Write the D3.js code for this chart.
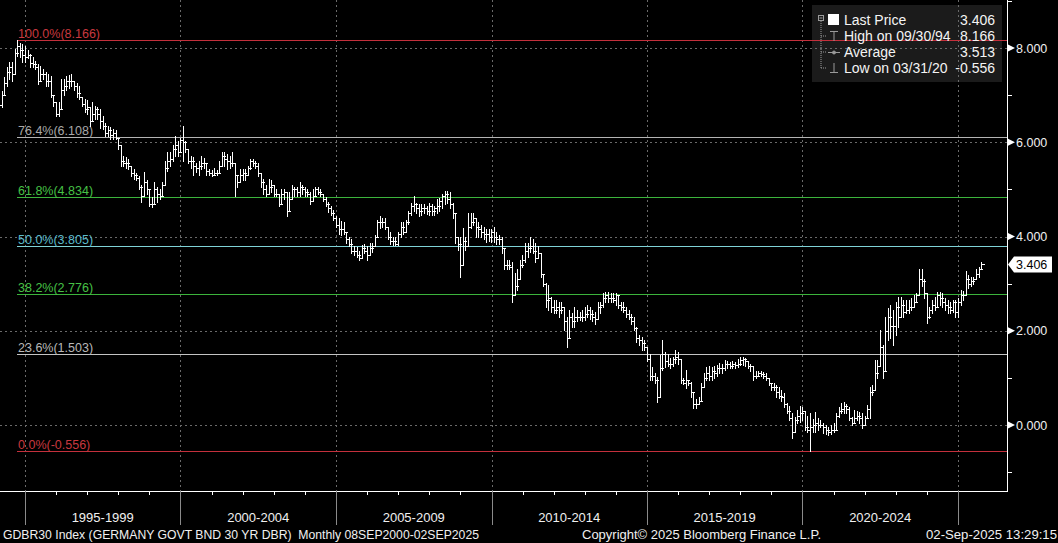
<!DOCTYPE html>
<html>
<head>
<meta charset="utf-8">
<script src="https://cdn.jsdelivr.net/npm/d3@7"></script>
<style>
html, body { margin: 0; padding: 0; background: #000; }
svg { display: block; }
text { font-family: "Liberation Sans", Arial, sans-serif; }
</style>
</head>
<body>
<svg width="1058" height="543"></svg>
<script>
// monthly bars from Mar 1994 to Sep 2025, one row per year
const firstBar = [1994, 2];
const firstOpen = 6.8;
const closeYield = [
    7.0, 7.25, 7.5, 7.6, 7.45, 7.9, 8.05, 7.95, 7.85, 7.8,
    7.85, 7.68, 7.65, 7.6, 7.3, 7.45, 7.45, 7.3, 7.3, 7.0, 6.85, 6.6,
    6.7, 7.1, 7.2, 7.3, 7.3, 7.3, 7.2, 7.05, 6.95, 6.82, 6.7, 6.75,
    6.45, 6.6, 6.7, 6.6, 6.45, 6.35, 6.2, 6.25, 6.15, 6.2, 6.1, 5.95,
    5.6, 5.55, 5.55, 5.5, 5.35, 5.3, 5.25, 5.05, 4.85, 5.15, 5.0, 4.7,
    4.7, 5.0, 4.9, 4.85, 5.1, 5.45, 5.6, 5.65, 5.85, 5.95, 5.8, 6.05,
    6.0, 5.85, 5.6, 5.6, 5.5, 5.45, 5.5, 5.55, 5.55, 5.4, 5.35, 5.3,
    5.35, 5.35, 5.5, 5.7, 5.65, 5.6, 5.55, 5.55, 5.3, 5.15, 5.3, 5.35,
    5.3, 5.45, 5.6, 5.55, 5.5, 5.35, 5.15, 5.0, 4.9, 5.05, 5.1, 4.9,
    4.9, 4.7, 4.9, 4.95, 4.55, 4.8, 5.0, 5.0, 4.95, 5.05, 5.0, 4.95,
    4.9, 4.75, 4.85, 5.0, 4.95, 4.9, 4.8, 4.7, 4.6, 4.5, 4.4, 4.25,
    4.15, 4.15, 4.1, 3.95, 3.85, 3.7, 3.7, 3.6, 3.55, 3.75, 3.7, 3.6,
    3.75, 3.8, 4.0, 4.3, 4.3, 4.3, 4.2, 4.0, 3.9, 3.9, 3.85, 4.05,
    4.2, 4.1, 4.3, 4.5, 4.65, 4.7, 4.6, 4.55, 4.6, 4.6, 4.55, 4.65,
    4.55, 4.6, 4.65, 4.75, 4.85, 4.9, 4.8, 4.7, 4.5, 4.0, 3.85, 3.4,
    3.9, 3.8, 4.2, 4.3, 4.4, 4.2, 4.15, 4.1, 4.05, 4.05, 4.0, 4.1,
    4.0, 3.95, 3.95, 3.75, 3.4, 3.4, 3.35, 2.75, 2.95, 3.1, 3.4, 3.5,
    3.7, 3.75, 3.8, 3.7, 3.55, 3.65, 3.2, 3.0, 2.65, 2.7, 2.5, 2.45,
    2.5, 2.45, 2.5, 2.2, 1.85, 2.3, 2.2, 2.3, 2.3, 2.3, 2.3, 2.35,
    2.45, 2.35, 2.3, 2.25, 2.5, 2.55, 2.7, 2.75, 2.7, 2.7, 2.65, 2.75,
    2.55, 2.5, 2.45, 2.35, 2.3, 2.2, 2.05, 1.85, 1.8, 1.75, 1.65, 1.4,
    1.05, 1.05, 0.95, 0.6, 1.2, 1.5, 1.35, 1.3, 1.3, 1.4, 1.45, 1.4,
    0.95, 0.9, 0.95, 0.9, 0.7, 0.45, 0.45, 0.5, 0.8, 1.0, 1.1, 1.05,
    1.15, 1.1, 1.2, 1.2, 1.2, 1.3, 1.3, 1.25, 1.3, 1.28, 1.3, 1.38,
    1.4, 1.35, 1.25, 1.25, 1.05, 1.05, 1.1, 1.08, 1.05, 1.0, 0.9, 0.8,
    0.8, 0.7, 0.62, 0.6, 0.45, 0.3, 0.15, -0.15, 0.1, 0.2, 0.25, 0.3,
    -0.05, -0.1, -0.05, 0.0, 0.05, 0.0, 0.0, -0.05, -0.1, -0.15, -0.1, -0.1,
    0.2, 0.3, 0.35, 0.4, 0.35, 0.15, 0.05, 0.15, 0.2, 0.15, 0.0, 0.15,
    0.35, 0.7, 0.75, 1.1, 1.25, 1.65, 1.15, 2.0, 2.3, 2.1, 2.1, 2.5,
    2.3, 2.55, 2.4, 2.45, 2.5, 2.5, 2.6, 2.75, 3.1, 3.05, 2.8, 2.3,
    2.45, 2.55, 2.5, 2.75, 2.7, 2.6, 2.55, 2.5, 2.45, 2.6, 2.4, 2.6,
    2.75, 2.75, 3.1, 3.0, 3.05, 3.1, 3.2, 3.3, 3.406
];
const highYield = [
    7.09, 7.38, 7.6, 7.7, 7.7, 7.98, 8.166, 8.1, 8.08, 8.05,
    7.95, 7.88, 7.8, 7.72, 7.66, 7.62, 7.55, 7.49, 7.45, 7.4, 6.98, 6.85,
    6.85, 7.34, 7.35, 7.4, 7.42, 7.45, 7.3, 7.25, 7.2, 6.96, 6.91, 6.9,
    6.64, 6.85, 6.77, 6.75, 6.7, 6.55, 6.4, 6.34, 6.32, 6.28, 6.25, 6.06,
    5.79, 5.7, 5.68, 5.65, 5.49, 5.43, 5.35, 5.28, 5.1, 5.36, 5.2, 4.95,
    4.83, 5.15, 5.05, 5.0, 5.15, 5.6, 5.79, 5.79, 5.95, 6.13, 6.02, 6.1,
    6.35, 6.02, 5.81, 5.7, 5.68, 5.57, 5.6, 5.7, 5.66, 5.5, 5.43, 5.42,
    5.45, 5.42, 5.6, 5.79, 5.79, 5.75, 5.7, 5.79, 5.57, 5.3, 5.43, 5.43,
    5.43, 5.5, 5.64, 5.64, 5.6, 5.57, 5.28, 5.21, 5.1, 5.23, 5.2, 5.1,
    5.0, 4.83, 5.0, 5.0, 4.83, 4.94, 5.1, 5.06, 5.06, 5.15, 5.1, 5.05,
    5.0, 4.94, 5.0, 5.06, 5.06, 5.0, 4.9, 4.83, 4.74, 4.65, 4.57, 4.43,
    4.4, 4.32, 4.3, 4.09, 4.0, 3.94, 3.79, 3.77, 3.7, 3.83, 3.85, 3.8,
    3.87, 3.87, 4.04, 4.36, 4.43, 4.4, 4.4, 4.2, 4.09, 4.0, 4.0, 4.1,
    4.3, 4.3, 4.36, 4.55, 4.72, 4.85, 4.72, 4.7, 4.7, 4.7, 4.64, 4.72,
    4.7, 4.65, 4.79, 4.82, 4.9, 4.96, 4.96, 4.94, 4.72, 4.5, 4.0, 4.0,
    4.19, 4.0, 4.5, 4.5, 4.5, 4.36, 4.3, 4.25, 4.2, 4.15, 4.15, 4.15,
    4.2, 4.1, 4.04, 4.0, 3.72, 3.51, 3.5, 3.45, 3.23, 3.3, 3.51, 3.6,
    3.87, 3.87, 4.0, 3.95, 3.87, 3.79, 3.4, 3.15, 3.02, 2.98, 2.72, 2.65,
    2.66, 2.6, 2.6, 2.51, 2.3, 2.45, 2.38, 2.51, 2.45, 2.4, 2.45, 2.51,
    2.55, 2.5, 2.45, 2.4, 2.6, 2.6, 2.81, 2.83, 2.83, 2.8, 2.8, 2.8,
    2.7, 2.62, 2.6, 2.5, 2.45, 2.35, 2.3, 2.09, 1.91, 1.87, 1.8, 1.66,
    1.5, 1.23, 1.1, 1.02, 1.49, 1.81, 1.55, 1.5, 1.43, 1.45, 1.6, 1.55,
    1.17, 1.0, 1.17, 0.95, 0.92, 0.6, 0.55, 0.6, 0.89, 1.1, 1.23, 1.25,
    1.23, 1.25, 1.28, 1.32, 1.3, 1.38, 1.36, 1.33, 1.35, 1.34, 1.4, 1.45,
    1.45, 1.42, 1.35, 1.3, 1.21, 1.15, 1.15, 1.15, 1.12, 1.1, 1.0, 0.89,
    0.89, 0.85, 0.81, 0.75, 0.68, 0.47, 0.4, 0.26, 0.17, 0.32, 0.4, 0.38,
    0.28, 0.2, 0.26, 0.13, 0.28, 0.15, 0.1, 0.04, 0.0, -0.04, 0.0, 0.05,
    0.26, 0.38, 0.47, 0.48, 0.45, 0.38, 0.17, 0.32, 0.3, 0.28, 0.25, 0.2,
    0.43, 0.81, 0.85, 1.38, 1.38, 2.02, 1.7, 2.3, 2.49, 2.55, 2.45, 2.6,
    2.72, 2.72, 2.66, 2.66, 2.66, 2.7, 2.75, 2.81, 3.3, 3.3, 3.1, 2.72,
    2.51, 2.66, 2.72, 2.83, 2.83, 2.8, 2.7, 2.66, 2.62, 2.66, 2.66, 2.7,
    2.87, 2.85, 3.26, 3.19, 3.15, 3.15, 3.3, 3.36, 3.45
];
const lowYield = [
    6.74, 7.0, 7.2, 7.35, 7.3, 7.45, 7.83, 7.8, 7.7, 7.7,
    7.78, 7.6, 7.6, 7.55, 7.23, 7.3, 7.35, 7.2, 7.19, 6.95, 6.77, 6.55,
    6.55, 6.7, 7.0, 7.1, 7.15, 7.2, 7.1, 6.95, 6.91, 6.77, 6.64, 6.6,
    6.34, 6.5, 6.49, 6.5, 6.3, 6.28, 6.13, 6.13, 6.06, 6.06, 6.06, 5.85,
    5.49, 5.49, 5.45, 5.43, 5.28, 5.21, 5.2, 5.0, 4.74, 4.85, 4.9, 4.64,
    4.62, 4.7, 4.74, 4.8, 4.85, 5.15, 5.4, 5.5, 5.6, 5.7, 5.7, 5.8,
    5.6, 5.79, 5.55, 5.45, 5.3, 5.36, 5.3, 5.43, 5.45, 5.3, 5.3, 5.28,
    5.3, 5.3, 5.36, 5.49, 5.5, 5.43, 5.45, 5.49, 4.85, 5.06, 5.15, 5.2,
    5.2, 5.3, 5.43, 5.49, 5.45, 5.28, 5.06, 4.9, 4.85, 4.94, 4.95, 4.85,
    4.85, 4.64, 4.8, 4.8, 4.43, 4.74, 4.83, 4.85, 4.85, 4.85, 4.9, 4.85,
    4.85, 4.68, 4.75, 4.89, 4.9, 4.85, 4.76, 4.64, 4.53, 4.45, 4.36, 4.2,
    4.05, 4.04, 4.05, 3.87, 3.8, 3.66, 3.6, 3.57, 3.51, 3.62, 3.65, 3.51,
    3.6, 3.68, 3.79, 4.0, 4.19, 4.2, 4.15, 3.95, 3.85, 3.83, 3.83, 3.83,
    4.0, 4.05, 4.1, 4.26, 4.45, 4.55, 4.5, 4.43, 4.45, 4.5, 4.47, 4.45,
    4.45, 4.45, 4.5, 4.55, 4.6, 4.7, 4.72, 4.6, 4.4, 3.87, 3.72, 3.13,
    3.51, 3.72, 3.87, 4.19, 4.25, 4.0, 4.0, 4.0, 3.95, 3.89, 3.9, 3.89,
    3.89, 3.85, 3.85, 3.66, 3.3, 3.3, 3.3, 2.62, 2.81, 2.87, 3.09, 3.36,
    3.45, 3.57, 3.68, 3.66, 3.45, 3.57, 3.15, 2.94, 2.51, 2.45, 2.4, 2.38,
    2.38, 2.3, 2.38, 2.02, 1.66, 2.09, 2.09, 2.09, 2.2, 2.23, 2.2, 2.23,
    2.3, 2.25, 2.2, 2.15, 2.3, 2.38, 2.51, 2.62, 2.6, 2.6, 2.6, 2.55,
    2.49, 2.45, 2.4, 2.3, 2.25, 2.15, 2.02, 1.77, 1.7, 1.6, 1.6, 1.35,
    0.96, 0.96, 0.9, 0.49, 1.1, 1.17, 1.23, 1.25, 1.21, 1.25, 1.32, 1.3,
    0.89, 0.87, 0.79, 0.85, 0.6, 0.36, 0.36, 0.45, 0.53, 0.89, 0.96, 0.96,
    0.96, 1.0, 1.05, 1.1, 1.1, 1.17, 1.2, 1.2, 1.2, 1.21, 1.24, 1.28,
    1.28, 1.25, 1.2, 1.15, 0.96, 1.0, 1.03, 1.05, 1.0, 0.96, 0.85, 0.74,
    0.74, 0.6, 0.57, 0.5, 0.38, 0.26, 0.1, -0.28, -0.06, 0.04, 0.06, 0.1,
    -0.11, -0.15, -0.556, -0.15, -0.15, -0.1, -0.05, -0.17, -0.2, -0.21, -0.2, -0.15,
    -0.11, 0.17, 0.26, 0.25, 0.25, 0.1, 0.0, 0.05, 0.1, 0.05, -0.06, 0.0,
    0.15, 0.15, 0.64, 0.75, 1.0, 1.38, 1.0, 1.66, 1.81, 1.85, 1.7, 1.9,
    2.09, 2.3, 2.3, 2.38, 2.38, 2.45, 2.55, 2.6, 2.81, 2.94, 2.7, 2.17,
    2.28, 2.38, 2.45, 2.55, 2.55, 2.5, 2.45, 2.38, 2.38, 2.4, 2.3, 2.3,
    2.55, 2.65, 2.75, 2.91, 2.95, 3.0, 3.1, 3.15, 3.36
];

const fibPct = ['100.0%', '76.4%', '61.8%', '50.0%', '38.2%', '23.6%', '0.0%'];
const fibValue = [8.166, 6.108, 4.834, 3.805, 2.776, 1.503, -0.556];

const yTicks = [0, 2, 4, 6, 8];
const yMinorTicks = [-1, 1, 3, 5, 7, 9];
const periodStarts = [1995, 2000, 2005, 2010, 2015, 2020, 2025];
const periodLabels = ['1995-1999', '2000-2004', '2005-2009', '2010-2014', '2015-2019', '2020-2024'];

const legendNames = ['Last Price', 'High on 09/30/94', 'Average', 'Low on 03/31/20'];
const legendValues = ['3.406', '8.166', '3.513', '-0.556'];
const lastPrice = 3.406;

const footerLeft = 'GDBR30 Index (GERMANY GOVT BND 30 YR DBR)  Monthly 08SEP2000-02SEP2025';
const footerMid = 'Copyright\u00a9 2025 Bloomberg Finance L.P.';
const footerRight = '02-Sep-2025 13:29:15';

// layout
const plotRight = 1007;
const plotBottom = 491;
const fibColors = ['#c4303c', '#b4b4b4', '#3cb43c', '#7fd2d6', '#3cb43c', '#c4c4c4', '#c4303c'];
const fibText = ['#c8383f', '#a8a8a8', '#46c046', '#5cbccc', '#46c046', '#b8b8b8', '#c8383f'];

const svg = d3.select('svg');

const xScale = d3
    .scaleTime()
    .domain([new Date(1995, 0, 1), new Date(2025, 0, 1)])
    .range([25, 958]);

const yScale = d3.scaleLinear().domain([0, 8]).range([425, 48]);

const barDate = (i) => new Date(firstBar[0], firstBar[1] + i + 1, 0);
const px = (v) => Math.round(v) + 0.5;
// plain hyphen for negatives, like the terminal prints
const fmt = (v) => d3.format('.3f')(v).replace('\u2212', '-');

// legend box sits under the grid
svg.append('rect')
    .attr('x', 812)
    .attr('y', 5)
    .attr('width', 190)
    .attr('height', 77)
    .attr('fill', '#1b1b1b');

// dashed grid
svg.append('g')
    .selectAll('line')
    .data(yTicks)
    .join('line')
    .attr('x1', 0)
    .attr('x2', plotRight)
    .attr('y1', (d) => px(yScale(d)))
    .attr('y2', (d) => px(yScale(d)))
    .attr('stroke', '#6a6a6a')
    .attr('stroke-dasharray', '2,3');

svg.append('g')
    .selectAll('line')
    .data(periodStarts)
    .join('line')
    .attr('x1', (d) => px(xScale(new Date(d, 0, 1))))
    .attr('x2', (d) => px(xScale(new Date(d, 0, 1))))
    .attr('y1', 0)
    .attr('y2', plotBottom)
    .attr('stroke', '#6a6a6a')
    .attr('stroke-dasharray', '2,3');

// fibonacci levels
const fib = svg.append('g');
fib.selectAll('line')
    .data(fibValue)
    .join('line')
    .attr('x1', 17)
    .attr('x2', plotRight)
    .attr('y1', (d) => px(yScale(d)))
    .attr('y2', (d) => px(yScale(d)))
    .attr('stroke', (d, i) => fibColors[i])
    .attr('stroke-width', 1);

fib.selectAll('text')
    .data(fibValue)
    .join('text')
    .attr('x', 18)
    .attr('y', (d) => yScale(d) - 2)
    .attr('fill', (d, i) => fibText[i])
    .attr('font-size', 12.5)
    .text((d, i) => `${fibPct[i]}(${fmt(d)})`);

// OHLC bars
const bars = d3.path();
closeYield.forEach((c, i) => {
    const open = i === 0 ? firstOpen : closeYield[i - 1];
    const hi = Math.max(highYield[i], open, c);
    const lo = Math.min(lowYield[i], open, c);
    const x = px(xScale(barDate(i)));
    bars.moveTo(x, Math.round(yScale(hi)));
    bars.lineTo(x, Math.round(yScale(lo)) + 1);
    bars.moveTo(x - 3, px(yScale(open)));
    bars.lineTo(x, px(yScale(open)));
    bars.moveTo(x, px(yScale(c)));
    bars.lineTo(x + 3, px(yScale(c)));
});
svg.append('path')
    .attr('d', bars.toString())
    .attr('fill', 'none')
    .attr('stroke', '#ffffff')
    .attr('stroke-width', 1.2)
    .attr('shape-rendering', 'crispEdges');

// axes frame
svg.append('line')
    .attr('x1', px(plotRight))
    .attr('x2', px(plotRight))
    .attr('y1', 0)
    .attr('y2', plotBottom + 1)
    .attr('stroke', '#fff');
svg.append('line')
    .attr('x1', 0)
    .attr('x2', plotRight + 1)
    .attr('y1', px(plotBottom))
    .attr('y2', px(plotBottom))
    .attr('stroke', '#fff');

// right axis
const yAxis = svg.append('g');
yAxis.selectAll('path')
    .data(yTicks)
    .join('path')
    .attr('d', (d) => {
        const y = yScale(d);
        return `M${plotRight + 1},${y - 3.5}L${plotRight + 8},${y}L${plotRight + 1},${y + 3.5}Z`;
    })
    .attr('fill', '#fff');
yAxis.selectAll('line')
    .data(yMinorTicks)
    .join('line')
    .attr('x1', plotRight)
    .attr('x2', plotRight + 5)
    .attr('y1', (d) => px(yScale(d)))
    .attr('y2', (d) => px(yScale(d)))
    .attr('stroke', '#fff');
yAxis.selectAll('text')
    .data(yTicks)
    .join('text')
    .attr('x', plotRight + 9)
    .attr('y', (d) => yScale(d) + 4.5)
    .attr('fill', '#f0f0f0')
    .attr('font-size', 12.5)
    .text((d) => fmt(d));

// last price tag
const yLast = yScale(lastPrice);
svg.append('path')
    .attr('d', `M${plotRight + 1},${yLast}L${plotRight + 7},${yLast - 8}H1052V${yLast + 8}H${plotRight + 7}Z`)
    .attr('fill', '#ffffff');
svg.append('text')
    .attr('x', plotRight + 9)
    .attr('y', yLast + 4.5)
    .attr('fill', '#000')
    .attr('font-size', 12.5)
    .text(fmt(lastPrice));

// bottom axis
const years = d3.range(1995, 2026);
svg.append('g')
    .selectAll('line')
    .data(years.filter((d) => d % 5 !== 0))
    .join('line')
    .attr('x1', (d) => px(xScale(new Date(d, 0, 1))))
    .attr('x2', (d) => px(xScale(new Date(d, 0, 1))))
    .attr('y1', plotBottom)
    .attr('y2', plotBottom + 4)
    .attr('stroke', '#fff');
svg.append('g')
    .selectAll('line')
    .data(periodStarts)
    .join('line')
    .attr('x1', (d) => px(xScale(new Date(d, 0, 1))))
    .attr('x2', (d) => px(xScale(new Date(d, 0, 1))))
    .attr('y1', plotBottom)
    .attr('y2', 525)
    .attr('stroke', '#8a8a8a');
svg.append('g')
    .selectAll('text')
    .data(periodLabels)
    .join('text')
    .attr('x', (d, i) => (xScale(new Date(periodStarts[i], 0, 1)) + xScale(new Date(periodStarts[i + 1], 0, 1))) / 2)
    .attr('y', 522)
    .attr('text-anchor', 'middle')
    .attr('fill', '#f0f0f0')
    .attr('font-size', 13)
    .text((d) => d);

// footer
const footer = [
    { t: footerLeft, x: 3, w: 476 },
    { t: footerMid, x: 582, w: 239 },
    { t: footerRight, x: 926, w: 131 }
];
svg.append('g')
    .selectAll('text')
    .data(footer)
    .join('text')
    .attr('x', (d) => d.x)
    .attr('y', 539)
    .attr('fill', '#f0f0f0')
    .attr('font-size', 13)
    .attr('textLength', (d) => d.w)
    .attr('lengthAdjust', 'spacingAndGlyphs')
    .style('white-space', 'pre')
    .text((d) => d.t);

// legend
const legend = svg.append('g');
const rowY = [20, 36, 52, 68];
legend.selectAll('text.name')
    .data(legendNames)
    .join('text')
    .attr('class', 'name')
    .attr('x', 844)
    .attr('y', (d, i) => rowY[i] + 5)
    .attr('fill', '#f4f4f4')
    .attr('font-size', 14)
    .text((d) => d);
legend.selectAll('text.val')
    .data(legendValues)
    .join('text')
    .attr('class', 'val')
    .attr('x', 995)
    .attr('y', (d, i) => rowY[i] + 5)
    .attr('text-anchor', 'end')
    .attr('fill', '#f4f4f4')
    .attr('font-size', 14)
    .text((d) => d);

// tree and markers
const icon = legend.append('g').attr('stroke', '#9a9a9a').attr('fill', 'none');
icon.append('rect').attr('x', 818.5).attr('y', 15.5).attr('width', 5).attr('height', 5);
icon.append('line').attr('x1', 819.5).attr('x2', 822.5).attr('y1', 18).attr('y2', 18);
icon.append('path')
    .attr('d', `M821,21V${rowY[3]}M821,${rowY[1]}H826M821,${rowY[2]}H826M821,${rowY[3]}H826`)
    .attr('stroke-dasharray', '1,1');
legend.append('rect')
    .attr('x', 828).attr('y', 14).attr('width', 11).attr('height', 11)
    .attr('fill', '#fff');
icon.append('path').attr('d', `M830,${rowY[1] - 4.5}H838M834,${rowY[1] - 4.5}V${rowY[1] + 5}`);
icon.append('path').attr('d', `M828,${rowY[2] + 0.5}H840`);
icon.append('circle').attr('cx', 834).attr('cy', rowY[2] + 0.5).attr('r', 1.5).attr('fill', '#9a9a9a');
icon.append('path').attr('d', `M834,${rowY[3] - 5}V${rowY[3] + 4.5}M830,${rowY[3] + 4.5}H838`);
</script>
</body>
</html>
